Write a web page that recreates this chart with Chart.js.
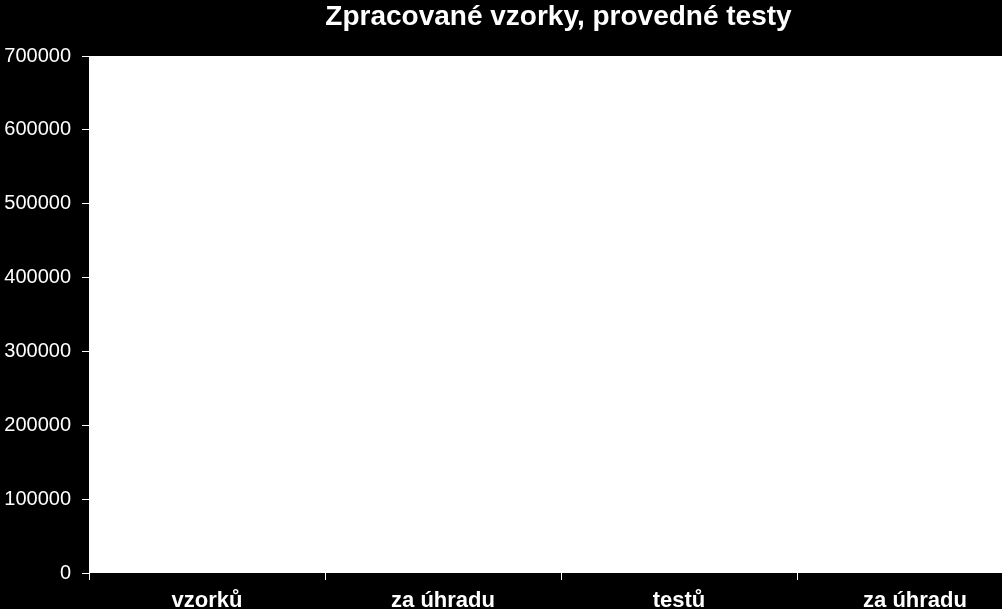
<!DOCTYPE html>
<html>
<head>
<meta charset="utf-8">
<script src="https://cdn.jsdelivr.net/npm/chart.js@4/dist/chart.umd.min.js"></script>
<style>
  html, body { margin: 0; padding: 0; background: #000; }
  #wrap { width: 1002px; height: 609px; overflow: hidden; position: relative; }
  #chart { display: block; }
</style>
</head>
<body>
<div id="wrap"><canvas id="chart" width="1117" height="609"></canvas></div>
<script>
// categories and values (the bars are empty in the reference)
const categories = ['vzorků', 'za úhradu', 'testů', 'za úhradu'];
const values = [0, 0, 0, 0];
const yTicks = [0, 100000, 200000, 300000, 400000, 500000, 600000, 700000];

const FONT = "'Liberation Sans', Arial, sans-serif";

// black canvas, white plot area
const plotBackground = {
    id: 'plotBackground',
    beforeDraw(chart) {
        const { ctx, chartArea: a } = chart;
        ctx.save();
        ctx.fillStyle = '#000';
        ctx.fillRect(0, 0, chart.width, chart.height);
        ctx.fillStyle = '#fff';
        ctx.fillRect(a.left, a.top, a.right - a.left, a.bottom - a.top);
        ctx.restore();
    }
};

new Chart(document.getElementById('chart'), {
    type: 'bar',
    data: {
        labels: categories,
        datasets: [{
            data: values,
            backgroundColor: '#4f81bd',
            borderWidth: 0
        }]
    },
    options: {
        responsive: false,
        devicePixelRatio: 1,
        animation: false,
        layout: { padding: 0 },
        plugins: {
            legend: { display: false },
            tooltip: { enabled: false },
            title: {
                display: true,
                text: 'Zpracované vzorky, provedné testy',
                color: '#fff',
                font: { family: FONT, size: 28, weight: 'bold', lineHeight: 1 },
                padding: { top: 3, bottom: 25 }
            }
        },
        scales: {
            x: {
                grid: { display: true, drawOnChartArea: false, drawTicks: true, tickLength: 7, color: '#fff', offset: true },
                border: { display: false },
                ticks: {
                    color: '#fff',
                    padding: 8,
                    maxRotation: 0,
                    autoSkip: false,
                    font: { family: FONT, size: 22, weight: 'bold' }
                },
                afterFit(s) { s.height = 36; }
            },
            y: {
                min: 0,
                max: 700000,
                afterBuildTicks(s) { s.ticks = yTicks.map(v => ({ value: v })); },
                grid: { display: true, drawOnChartArea: false, drawTicks: true, tickLength: 7, color: '#fff' },
                border: { display: false },
                ticks: {
                    color: '#fff',
                    padding: 11,
                    font: { family: FONT, size: 20 },
                    callback: v => String(v)
                },
                afterFit(s) { s.width = 89; }
            },
            // empty right axis so the plot runs past the visible edge while the title stays centred
            y2: {
                position: 'right',
                display: true,
                grid: { display: false },
                border: { display: false },
                ticks: { display: false },
                afterFit(s) { s.width = 84; }
            }
        }
    },
    plugins: [plotBackground]
});
</script>
</body>
</html>
